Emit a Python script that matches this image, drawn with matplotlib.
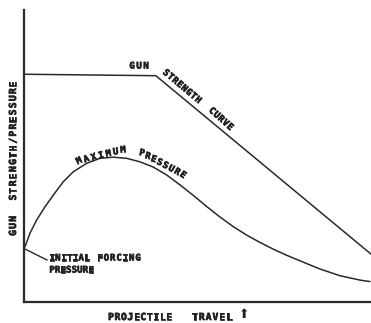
import matplotlib
matplotlib.use("Agg")
import matplotlib.pyplot as plt
import matplotlib.patheffects as pe

# Data (normalized 0-100 units)
strength_x = [0, 38, 100]
strength_y = [78, 77.5, 16.4]

pressure_x = [0.29, 1.73, 3.66, 6.05, 8.44, 11.33, 14.21, 18.07, 21.90, 25.73, 29.60,
              33.43, 37.26, 41.12, 44.96, 48.79, 52.65, 56.48, 60.32, 64.18, 68.01,
              71.84, 75.5, 79.54, 85.30, 91.07, 96.83, 99.71]
pressure_y = [18.9, 23.6, 28.1, 32.6, 36.6, 41.2, 44.6, 47.5, 49.2, 49.6, 49.2,
              48.0, 46.2, 43.5, 40.1, 36.5, 32.7, 29.1, 25.8, 22.9, 20.4,
              18.1, 16.1, 14.1, 11.3, 9.0, 7.5, 7.0]

x_label_words = ["PROJECTILE", "TRAVEL"]
y_label = "GUN  STRENGTH/PRESSURE"

W, H = 371, 323
fig = plt.figure(figsize=(W / 100, H / 100), dpi=100)
fig.patch.set_facecolor("white")

def P(px, py):
    return (px / W, 1 - py / H)

ax = fig.add_axes([24 / W, (H - 302) / H, (W - 24) / W, 292 / H])
ax.set_xlim(0, 100)
ax.set_ylim(0, 100)
ax.set_facecolor("white")
for s in ["top", "right"]:
    ax.spines[s].set_visible(False)
for s in ["left", "bottom"]:
    ax.spines[s].set_linewidth(1.6)
    ax.spines[s].set_color("#2a2a2a")
ax.set_xticks([])
ax.set_yticks([])

lc = "#2a2a2a"
ax.plot(strength_x, strength_y, color=lc, lw=1.1, solid_joinstyle="round")
ax.plot(pressure_x, pressure_y, color=lc, lw=1.1, solid_joinstyle="round",
        solid_capstyle="round")

FAM = ["DejaVu Sans Mono", "DejaVu Sans"]
TC = "#222222"
STROKE = [pe.withStroke(linewidth=0.5, foreground=TC)]

def place(word, p0, p1, rot0=0.0, rot1=None, fs=6.5):
    if rot1 is None:
        rot1 = rot0
    n = len(word)
    for i, ch in enumerate(word):
        t = i / (n - 1) if n > 1 else 0
        x = p0[0] + t * (p1[0] - p0[0])
        y = p0[1] + t * (p1[1] - p0[1])
        r = rot0 + t * (rot1 - rot0)
        if ch.strip():
            fig.text(*P(x, y), ch, fontsize=fs, rotation=r, rotation_mode="anchor",
                     transform=fig.transFigure, color=TC, fontweight="bold",
                     family=FAM, ha="center", va="center", path_effects=STROKE)

place("GUN", (132, 66), (146, 66))
place("STRENGTH", (166, 73), (198, 100), -40)
place("CURVE", (212, 111), (230, 127), -40)
place("MAXIMUM", (79, 161), (123, 150), 25, 5)
place("PRESSURE", (142, 153), (183, 175), -10, -35)

place("INITIAL", (52, 258), (87, 258))
place("FORCING", (100, 258), (138, 258))
place("PRESSURE", (52, 270), (91, 270))
fig.lines.append(plt.Line2D([25 / W, 47 / W], [1 - 249 / H, 1 - 260 / H],
                            transform=fig.transFigure, color=lc, lw=1.0))

place(x_label_words[0], (111, 317), (169, 317), fs=7)
place(x_label_words[1], (195, 317), (229, 317), fs=7)
fig.text(*P(244, 315), "\u2B06", fontsize=9, transform=fig.transFigure,
         color=TC, family="DejaVu Sans", ha="center", va="center")

place(y_label, (13, 233), (13, 84), 90, fs=7)

fig.savefig("out.png", dpi=100, facecolor="white")
